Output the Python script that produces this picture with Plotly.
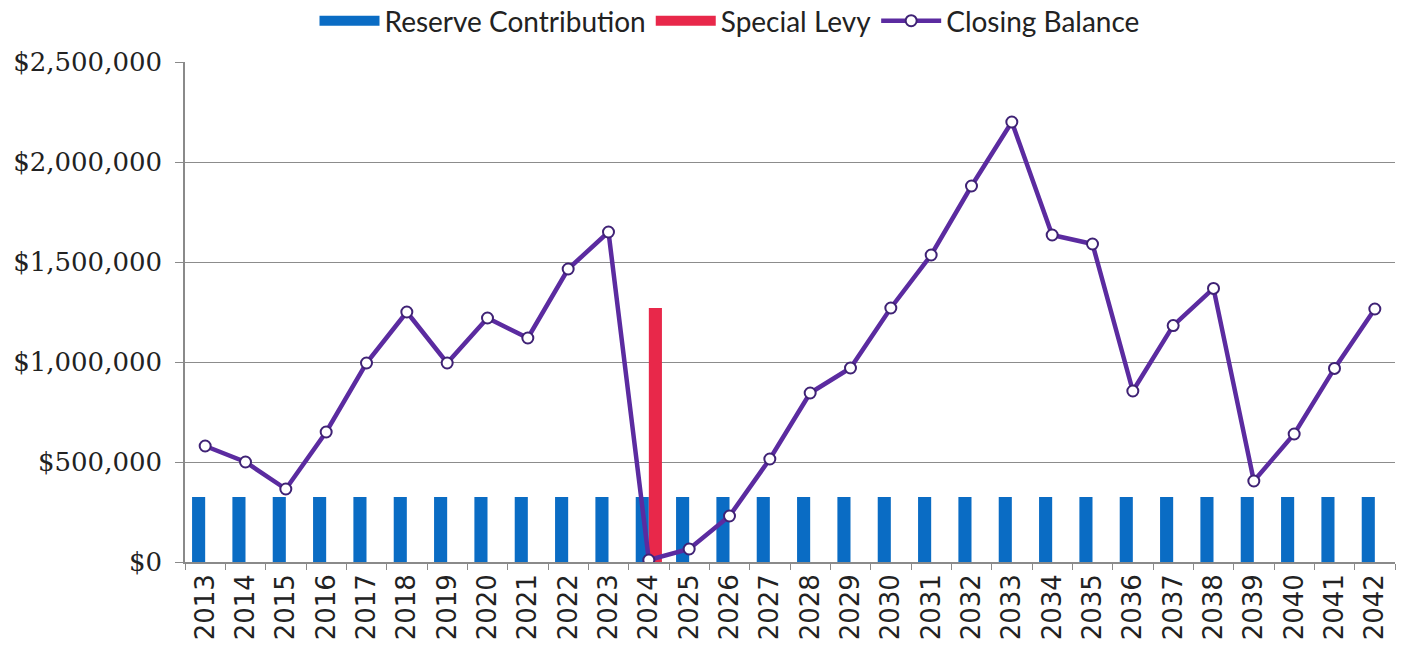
import plotly.graph_objects as go

years = [str(y) for y in range(2013, 2043)]

reserve_contribution = [325000] * 30

special_levy = [None] * 30
special_levy[years.index("2024")] = 1270000

closing_balance = [
    580000, 500000, 365000, 650000, 995000, 1250000, 995000, 1220000, 1120000, 1465000,
    1650000, 10000, 65000, 230000, 515000, 845000, 970000, 1270000, 1535000, 1880000,
    2200000, 1635000, 1590000, 855000, 1182000, 1368000, 405000, 640000, 968000, 1265000,
]

y_tickvals = [0, 500000, 1000000, 1500000, 2000000, 2500000]
y_ticktext = ["$0", "$500,000", "$1,000,000", "$1,500,000", "$2,000,000", "$2,500,000"]

BLUE = "#0a6cc4"
RED = "#e8284a"
PURPLE = "#5b2ba0"
TEXT = "#222222"
AXIS = "#8a8a8a"

fig = go.Figure()
fig.add_trace(go.Bar(
    x=years, y=reserve_contribution, name="Reserve Contribution",
    legendgroup="reserve", showlegend=False,
    marker=dict(color=BLUE, line=dict(width=0)),
))
fig.add_trace(go.Bar(
    x=years, y=special_levy, name="Special Levy",
    legendgroup="levy", showlegend=False,
    marker=dict(color=RED, line=dict(width=0)),
))
fig.add_trace(go.Scatter(
    x=years, y=closing_balance, name="Closing Balance", mode="lines+markers",
    legendgroup="balance", legendrank=3,
    line=dict(color=PURPLE, width=4.5),
    marker=dict(symbol="circle", size=11, color="white",
                line=dict(color="#3f2275", width=2)),
))

# wide swatch legend keys for the two bar series
for name, color, group, rank in [("Reserve Contribution", BLUE, "reserve", 1),
                                 ("Special Levy", RED, "levy", 2)]:
    fig.add_trace(go.Scatter(
        x=[None], y=[None], name=name, mode="lines", legendgroup=group,
        legendrank=rank, line=dict(color=color, width=16), hoverinfo="skip",
    ))

fig.update_layout(
    width=1401, height=650,
    margin=dict(l=185, r=6, t=62, b=88, autoexpand=False),
    paper_bgcolor="white", plot_bgcolor="white",
    barmode="group", bargap=0.35, bargroupgap=0.0,
    font=dict(family="Lato", size=26, color=TEXT),
    showlegend=True,
    legend=dict(orientation="h", x=0.45, xanchor="center", y=1.082, yanchor="middle",
                font=dict(family="Lato", size=28, color=TEXT),
                itemwidth=60, bgcolor="rgba(0,0,0,0)"),
)

fig.update_xaxes(
    type="category", range=[-0.5, 29.5], tickangle=-90, tickson="boundaries",
    ticks="outside", ticklen=6, tickcolor=AXIS,
    showline=True, linecolor=AXIS, linewidth=1.5,
    showgrid=False, tickfont=dict(family="DejaVu Sans", size=26, color=TEXT),
)
fig.update_yaxes(
    range=[0, 2500000], tickvals=y_tickvals, ticktext=y_ticktext,
    ticks="outside", ticklen=8, tickcolor=AXIS, ticklabelstandoff=8,
    showline=True, linecolor=AXIS, linewidth=1.5,
    showgrid=True, gridcolor="#8c8c8c", gridwidth=1.2,
    zeroline=False, tickfont=dict(family="DejaVu Serif", size=26, color=TEXT),
)

fig.write_html("out.html")
